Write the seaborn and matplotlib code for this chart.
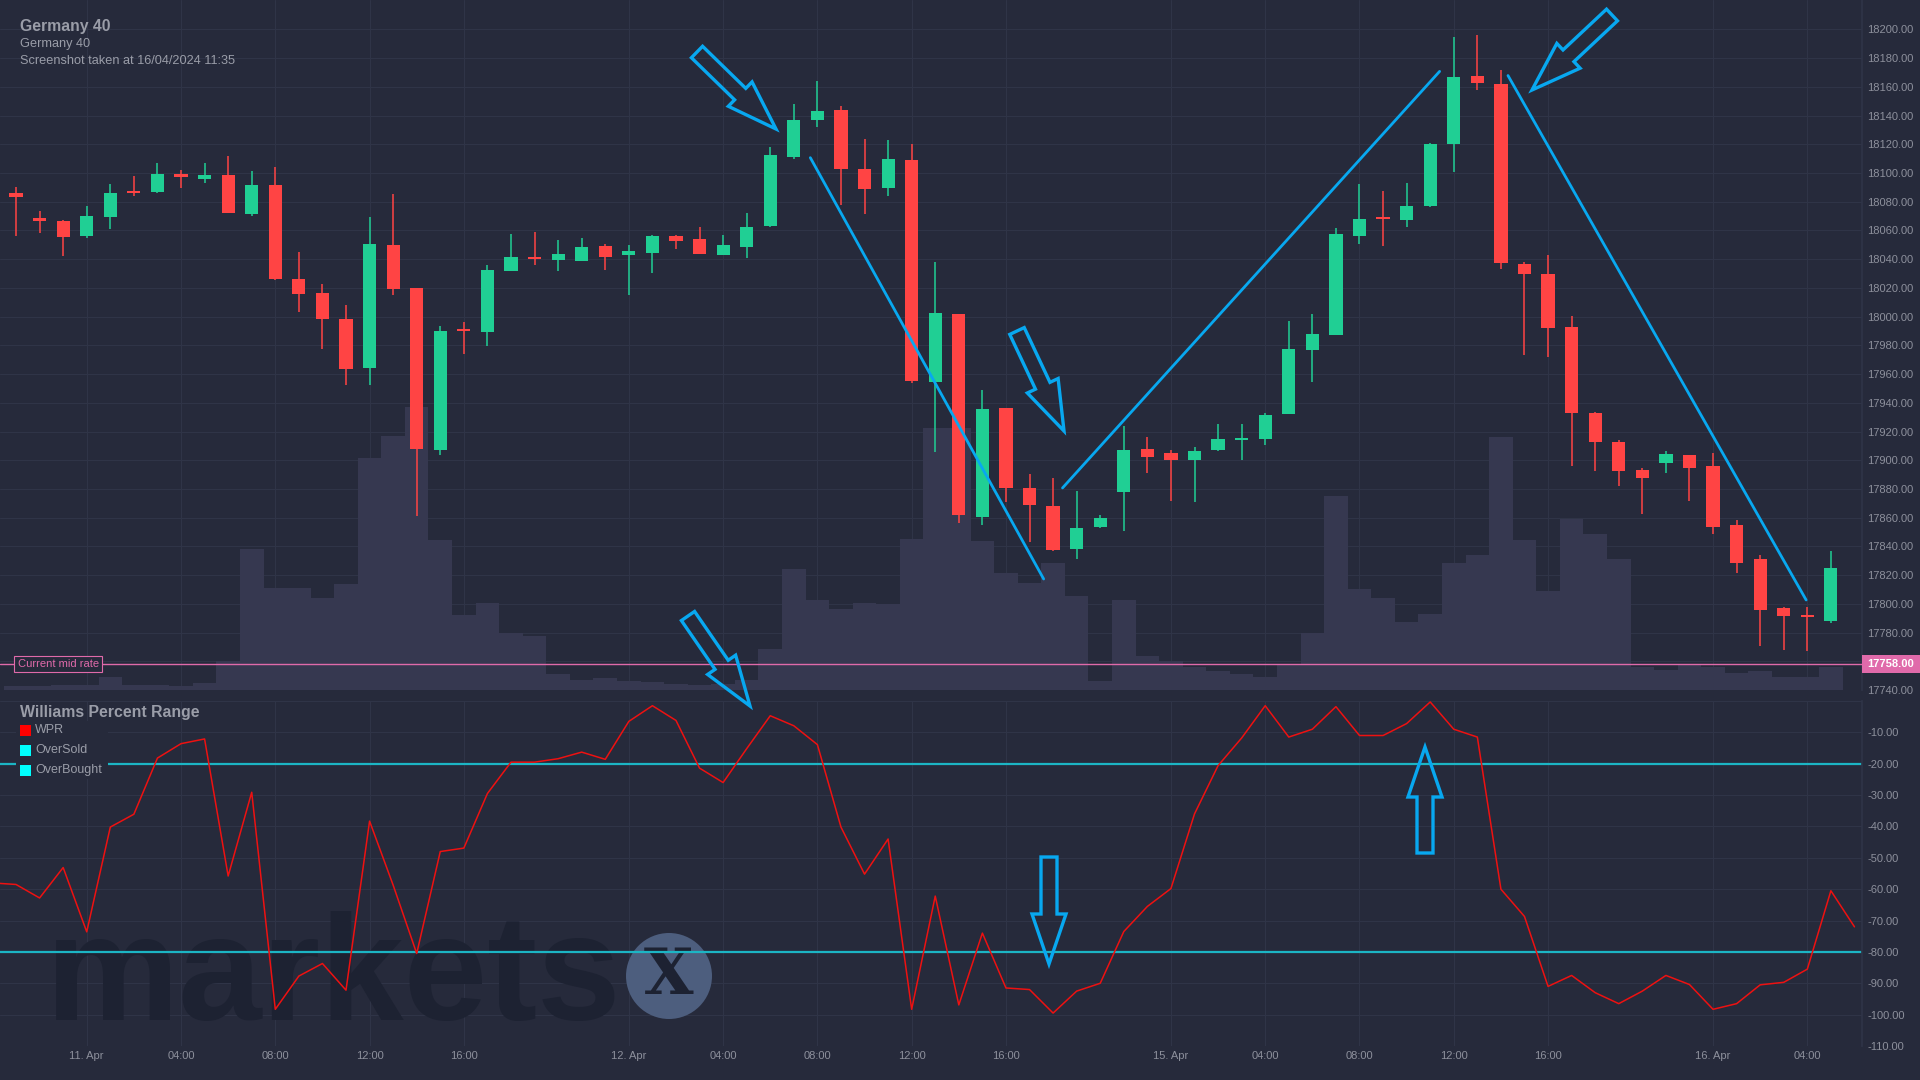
import numpy as np
import pandas as pd
import matplotlib.pyplot as plt
import matplotlib.transforms as mtransforms
from matplotlib.patches import Polygon, Rectangle, Ellipse
import seaborn as sns

# ---------------------------------------------------------------
# Germany 40, hourly bars (index 0 = first bar)
# ---------------------------------------------------------------
opens = [18085.9, 18068.7, 18066.6, 18056.4, 18069.6, 18087.0, 18087.1, 18099.0, 18096.1, 18098.7,
         18071.7, 18091.7, 18026.3, 18016.5, 17998.4, 17964.5, 18049.9, 18020.0, 17907.4, 17991.0,
         17989.6, 18032.0, 18041.5, 18039.7, 18039.0, 18049.2, 18043.2, 18044.6, 18056.2, 18054.1,
         18043.2, 18048.8, 18063.4, 18111.4, 18137.2, 18143.9, 18102.9, 18089.8, 18109.1, 17954.7,
         18001.9, 17860.8, 17936.4, 17880.7, 17868.4, 17838.5, 17853.8, 17877.6, 17907.8, 17905.2,
         17900.3, 17907.3, 17914.1, 17915.0, 17932.5, 17977.1, 17987.4, 18056.5, 18068.7, 18067.6,
         18077.3, 18120.0, 18167.6, 18162.1, 18036.8, 18029.6, 17992.9, 17932.9, 17912.7, 17893.3,
         17898.3, 17903.4, 17896.0, 17855.0, 17831.3, 17797.2, 17791.4, 17788.2]
highs = [18090.3, 18073.6, 18067.3, 18077.1, 18092.4, 18098.0, 18107.0, 18102.2, 18107.0, 18111.9,
         18101.3, 18104.2, 18045.0, 18022.8, 18008.1, 18069.4, 18085.4, 18020.0, 17993.5, 17996.3,
         18036.0, 18057.6, 18059.0, 18053.4, 18054.8, 18050.6, 18049.9, 18057.0, 18057.0, 18062.5,
         18057.0, 18072.2, 18118.2, 18148.3, 18164.1, 18146.7, 18123.7, 18123.0, 18120.3, 18038.1,
         18001.9, 17949.0, 17936.4, 17890.5, 17887.7, 17878.8, 17862.0, 17923.9, 17916.2, 17907.1,
         17909.5, 17924.9, 17925.3, 17933.0, 17997.0, 18001.8, 18061.6, 18092.5, 18087.7, 18093.2,
         18121.0, 18194.8, 18196.2, 18171.7, 18038.0, 18042.9, 18000.4, 17933.5, 17913.9, 17894.4,
         17906.3, 17903.4, 17905.2, 17858.4, 17834.1, 17797.8, 17797.5, 17836.8]
lows = [18056.4, 18058.5, 18042.5, 18055.0, 18061.3, 18084.3, 18086.4, 18089.9, 18093.3, 18072.4,
        18070.3, 18025.8, 18003.5, 17977.7, 17952.7, 17952.7, 18015.3, 17861.4, 17903.9, 17974.3,
        17979.8, 18031.5, 18036.2, 18032.0, 18039.0, 18032.7, 18015.3, 18030.6, 18047.4, 18043.9,
        18043.2, 18041.1, 18062.7, 18109.6, 18132.3, 18078.0, 18071.7, 18084.3, 17953.6, 17906.0,
        17856.1, 17855.1, 17870.6, 17843.3, 17837.0, 17831.5, 17852.6, 17851.0, 17890.8, 17871.9,
        17871.1, 17906.6, 17899.9, 17910.9, 17932.5, 17954.6, 17987.4, 18050.3, 18049.3, 18062.6,
        18076.5, 18100.9, 18157.5, 18033.1, 17973.6, 17971.9, 17896.2, 17892.2, 17881.8, 17862.7,
        17891.3, 17871.9, 17848.9, 17821.2, 17770.9, 17768.0, 17766.9, 17787.0]
closes = [18083.6, 18066.9, 18055.7, 18070.1, 18086.1, 18086.0, 18099.4, 18097.5, 18098.7, 18072.4,
          18091.7, 18026.5, 18016.0, 17998.6, 17963.8, 18050.6, 18019.5, 17908.1, 17990.0, 17990.0,
          18032.5, 18041.6, 18040.0, 18043.7, 18048.5, 18041.8, 18045.8, 18056.2, 18052.9, 18043.9,
          18049.9, 18062.5, 18112.6, 18137.0, 18143.2, 18103.1, 18089.2, 18109.8, 17955.4, 18002.6,
          17861.9, 17935.6, 17880.7, 17868.5, 17837.8, 17852.9, 17859.8, 17907.1, 17902.5, 17899.9,
          17906.6, 17914.8, 17914.6, 17931.5, 17977.6, 17987.9, 18057.7, 18068.0, 18067.9, 18077.1,
          18120.3, 18167.1, 18162.4, 18037.7, 18029.9, 17991.8, 17933.1, 17913.0, 17892.2, 17887.3,
          17904.3, 17894.8, 17853.8, 17828.7, 17796.0, 17791.7, 17790.8, 17824.9]
volumes = [4, 4, 5, 5, 13, 5, 5, 4, 7, 29,
           141, 102, 102, 92, 106, 232, 254, 283, 150, 75,
           87, 57, 54, 16, 10, 12, 9, 8, 6, 5,
           6, 10, 41, 121, 90, 81, 87, 86, 151, 262,
           262, 149, 117, 107, 127, 94, 9, 90, 34, 29,
           23, 19, 16, 13, 25, 57, 194, 101, 92, 68,
           76, 127, 135, 253, 150, 99, 171, 156, 131, 23,
           20, 25, 23, 17, 19, 13, 13, 23]

# Williams %R, one value per bar, starting one bar left of the first candle
wpr_first = -1
wpr = [-58.0, -58.5, -62.8, -53.1, -73.6, -40.2, -36.1, -18.2, -13.6, -12.1,
       -55.8, -29.1, -98.3, -87.7, -83.7, -92.2, -38.3, -58.7, -80.5, -48.0,
       -46.9, -29.5, -19.5, -19.5, -18.4, -16.3, -18.6, -6.5, -1.5, -6.2,
       -21.4, -26.0, -15.2, -4.7, -7.9, -13.9, -40.2, -55.2, -44.0, -98.3,
       -62.2, -96.9, -74.0, -91.5, -92.0, -99.5, -92.5, -90.0, -73.5, -65.5,
       -59.8, -36.0, -20.6, -11.8, -1.5, -11.5, -9.0, -1.8, -11.0, -11.0,
       -7.2, -0.3, -9.0, -11.5, -60.0, -68.7, -91.0, -87.5, -93.0, -96.5,
       -92.5, -87.5, -90.4, -98.3, -96.5, -90.5, -89.7, -85.5, -60.5, -72.0]
overbought = -20
oversold = -80
mid_rate = 17758.0

tick_pos = [3, 7, 11, 15, 19, 26, 30, 34, 38, 42, 49, 53, 57, 61, 65, 72, 76]
tick_labels = ["11. Apr", "04:00", "08:00", "12:00", "16:00",
               "12. Apr", "04:00", "08:00", "12:00", "16:00",
               "15. Apr", "04:00", "08:00", "12:00", "16:00",
               "16. Apr", "04:00"]

# drawings on the chart: trend lines in (bar, price), arrows in screen pixels
trend_lines = [((33.7, 18110.7), (43.6, 17817.3)),
               ((44.4, 17880.7), (60.4, 18170.8)),
               ((63.3, 18167.9), (75.95, 17802.7))]
arrows = [((697, 52), (776, 129)),
          ((1017, 331), (1064, 431)),
          ((1612, 15), (1532, 90)),
          ((688, 616), (750, 706)),
          ((1049, 857), (1049, 964)),
          ((1425, 853), (1425, 747))]

# ---------------------------------------------------------------
BG = "#262a3b"
GRID = "#2f3447"
TXT = "#8d909c"
VOL = "#363850"
GREEN = "#20cf94"
RED = "#ff4444"
PINK = "#e06aaa"
BLUE = "#08a8f0"
CYAN = "#1cb5c4"

sns.set_theme(style="dark", rc={"axes.facecolor": BG, "figure.facecolor": BG,
                                "grid.color": GRID, "axes.edgecolor": GRID})
plt.rcParams["font.family"] = ["Liberation Sans", "DejaVu Sans"]

W, H = 1920, 1080
fig = plt.figure(figsize=(W / 100, H / 100), dpi=100)
fig.patch.set_facecolor(BG)

price_rect = [0, 1 - 690 / H, 1862 / W, 690 / H]
wpr_rect = [0, 1 - 1046 / H, 1862 / W, 345 / H]

ax_grid = fig.add_axes(price_rect)
ax_vol = fig.add_axes(price_rect, sharex=ax_grid)
ax_price = fig.add_axes(price_rect, sharex=ax_grid, sharey=ax_grid)
ax_wpr = fig.add_axes(wpr_rect, sharex=ax_grid)

idx = np.arange(len(opens))
ohlc = pd.DataFrame({"open": opens, "high": highs, "low": lows, "close": closes}, index=idx)

# --- background grid + price scale
ax_grid.set_facecolor(BG)
ax_grid.set_axisbelow(True)
ax_grid.grid(True, color=GRID, lw=0.8)
ax_grid.set_ylim(17740, 18220.5)
pticks = np.arange(17740, 18201, 20)
ax_grid.set_yticks(pticks, [f"{v:.2f}" for v in pticks])
ax_grid.yaxis.tick_right()
ax_grid.tick_params(axis="y", length=0, pad=3.6, labelsize=8, labelcolor=TXT)
ax_grid.tick_params(axis="x", length=0, labelbottom=False)
for s in ax_grid.spines.values():
    s.set_visible(False)
ax_grid.spines["right"].set_visible(True)
ax_grid.spines["right"].set_color(GRID)

# --- volume
sns.barplot(x=idx, y=volumes, ax=ax_vol, native_scale=True, width=1.0,
            color=VOL, saturation=1, linewidth=0)
ax_vol.set_ylim(0, 690)
ax_vol.set_axis_off()

# --- candles
up = ohlc["close"] >= ohlc["open"]
cols = np.where(up, GREEN, RED)
ax_price.vlines(idx, ohlc["low"], ohlc["high"], colors=cols, lw=1.1, zorder=3)
body = np.maximum((ohlc["close"] - ohlc["open"]).abs(), 1.2)
ax_price.bar(idx, body, bottom=np.minimum(ohlc["open"], ohlc["close"]),
             width=0.56, color=cols, linewidth=0, zorder=4)
for (x0, y0), (x1, y1) in trend_lines:
    ax_price.plot([x0, x1], [y0, y1], color=BLUE, lw=2.0, solid_capstyle="round", zorder=6)

ax_price.axhline(mid_rate, color=PINK, lw=1.0, zorder=5)
blend = mtransforms.blended_transform_factory(ax_price.transAxes, ax_price.transData)
ax_price.text(17.5 / 1862, mid_rate, "Current mid rate", transform=blend, ha="left", va="center",
              fontsize=8, color=PINK, zorder=7,
              bbox=dict(boxstyle="square,pad=0.3", fc=BG, ec=PINK, lw=0.8))
ax_price.add_patch(Rectangle((1.0, mid_rate - 6.3), 58 / 1862, 12.6, transform=blend,
                             fc=PINK, ec="none", clip_on=False, zorder=8))
ax_price.text(1.0 + 29 / 1862, mid_rate, f"{mid_rate:.2f}", transform=blend, ha="center",
              va="center", fontsize=8, weight="bold", color="white", clip_on=False, zorder=9)
ax_price.set_axis_off()

# --- Williams %R panel
ax_wpr.set_facecolor(BG)
ax_wpr.set_axisbelow(True)
ax_wpr.grid(True, color=GRID, lw=0.8)
ax_wpr.set_ylim(-110, 0)
wticks = np.arange(-110, 1, 10)
ax_wpr.set_yticks(wticks, [f"{v:.2f}" if v < 0 else "" for v in wticks])
ax_wpr.yaxis.tick_right()
ax_wpr.tick_params(axis="y", length=0, pad=3.6, labelsize=8, labelcolor=TXT)
ax_wpr.set_xticks(tick_pos, tick_labels)
ax_wpr.tick_params(axis="x", length=0, pad=3.6, labelsize=8, labelcolor=TXT)
for s in ax_wpr.spines.values():
    s.set_visible(False)
ax_wpr.spines["right"].set_visible(True)
ax_wpr.spines["right"].set_color(GRID)

# watermark behind the indicator
ax_wpr.text(46 / 1862, 26 / 345, "markets", transform=ax_wpr.transAxes, ha="left",
            va="baseline", fontsize=108, weight="bold", color="#1d2232", zorder=1)
ax_wpr.add_patch(Ellipse((669 / 1862, 70 / 345), 86 / 1862, 86 / 345,
                         transform=ax_wpr.transAxes, fc="#4d5e7e", ec="none", zorder=1))
ax_wpr.text(669 / 1862, 70 / 345, "X", transform=ax_wpr.transAxes, ha="center", va="center",
            fontsize=46, weight="bold", family="DejaVu Serif", color="#1d2232", zorder=1.1)

ax_wpr.axhline(overbought, color=CYAN, lw=1.6, zorder=2)
ax_wpr.axhline(oversold, color=CYAN, lw=1.6, zorder=2)
wpr_x = np.arange(wpr_first, wpr_first + len(wpr))
sns.lineplot(x=wpr_x, y=wpr, ax=ax_wpr, color="#ee1111", lw=1.1, legend=False, zorder=3)
ax_wpr.set_xlabel("")
ax_wpr.set_ylabel("")

ax_grid.set_xlim(-0.68, 78.32)

# --- overlay in screen pixels: titles, legend, hand-drawn arrows
ax_ov = fig.add_axes([0, 0, 1, 1])
ax_ov.set_xlim(0, W)
ax_ov.set_ylim(H, 0)
ax_ov.set_axis_off()

ax_ov.text(20, 26, "Germany 40", fontsize=11.3, weight="bold", color="#9a9da8", va="center")
ax_ov.text(20, 44, "Germany 40", fontsize=9.2, color="#9a9da8", va="center")
ax_ov.text(20, 61, "Screenshot taken at 16/04/2024 11:35", fontsize=9.2, color="#9a9da8", va="center")

ax_ov.text(20, 712, "Williams Percent Range", fontsize=11.4, weight="bold", color="#9a9da8", va="center")
ax_ov.add_patch(Rectangle((16, 721), 92, 58, fc=BG, ec="none"))
for k, (name, c) in enumerate([("WPR", "#ff0000"), ("OverSold", "#00ffff"), ("OverBought", "#00ffff")]):
    yc = 730 + 20 * k
    ax_ov.add_patch(Rectangle((20, yc - 5.5), 11, 11, fc=c, ec="none"))
    ax_ov.text(35, yc, name, fontsize=9, color="#9a9da8", va="center")


def arrow_outline(tail, tip, shaft=8.0, head=17.0, head_len=50.0):
    t = np.array(tail, float)
    p = np.array(tip, float)
    u = (p - t) / np.hypot(*(p - t))
    n = np.array([-u[1], u[0]])
    b = p - u * head_len
    return [t + n * shaft, b + n * shaft, b + n * head, p, b - n * head, b - n * shaft, t - n * shaft]


for tail, tip in arrows:
    ax_ov.add_patch(Polygon(arrow_outline(tail, tip), closed=True, fill=False,
                            ec=BLUE, lw=2.4, joinstyle="miter"))

fig.savefig("out.png", dpi=100, facecolor=BG)
